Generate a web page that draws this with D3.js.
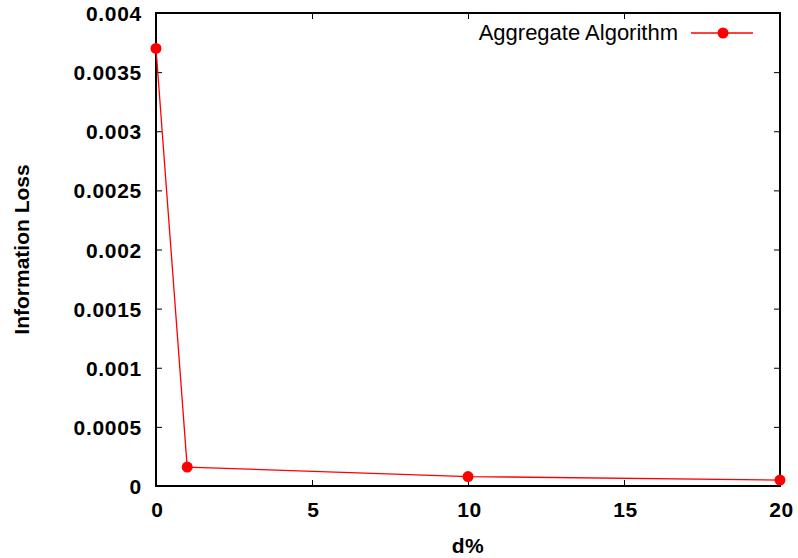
<!DOCTYPE html>
<html lang="en">
<head>
<meta charset="UTF-8">
<title>Information Loss</title>
<style>
    body { margin:0; background:#fff; }
    text { font-family: "Liberation Sans", Arial, sans-serif; }
</style>
</head>
<body>
<script src="https://cdn.jsdelivr.net/npm/d3@7"></script>
<script type="text/javascript">
    var xValues = [0, 1, 10, 20];
    var lossValues = [0.0037, 0.00016, 0.00008, 0.00005];
    var xTicks = [0, 5, 10, 15, 20];
    var yTicks = [0, 0.0005, 0.001, 0.0015, 0.002, 0.0025, 0.003, 0.0035, 0.004];
    var seriesName = "Aggregate Algorithm";

    var w = 798, h = 558;
    var mLeft = 156, mRight = 780, mTop = 13, mBottom = 486;

    var svg = d3.select("body").append("svg")
        .attr("width", w)
        .attr("height", h);

    var x = d3.scaleLinear().domain([0, 20]).range([mLeft, mRight]);
    var y = d3.scaleLinear().domain([0, 0.004]).range([mBottom, mTop]);

    var fmtY = function (d) { return d === 0 ? "0" : String(+d.toFixed(4)); };

    // axes, ticks pointing inward
    var xAxis = svg.append("g").attr("transform", "translate(0," + mBottom + ")")
        .call(d3.axisBottom(x).tickValues(xTicks).tickSizeInner(-6).tickSizeOuter(0).tickPadding(15));
    svg.append("g").attr("transform", "translate(0," + mTop + ")")
        .call(d3.axisTop(x).tickValues(xTicks).tickSizeInner(-6).tickSizeOuter(0).tickFormat(""));
    var yAxis = svg.append("g").attr("transform", "translate(" + mLeft + ",0)")
        .call(d3.axisLeft(y).tickValues(yTicks).tickFormat(fmtY).tickSizeInner(-6).tickSizeOuter(0).tickPadding(14));
    svg.append("g").attr("transform", "translate(" + mRight + ",0)")
        .call(d3.axisRight(y).tickValues(yTicks).tickSizeInner(-6).tickSizeOuter(0).tickFormat(""));

    svg.selectAll(".domain").remove();
    svg.selectAll(".tick line").attr("stroke", "#000").attr("stroke-width", 1);
    svg.selectAll(".tick text")
        .attr("font-size", "21px")
        .attr("font-weight", "bold")
        .attr("letter-spacing", "0.7px")
        .attr("fill", "#000");
    xAxis.selectAll(".tick text").attr("dy", "0.75em").attr("dx", "1px");
    yAxis.selectAll(".tick text").attr("dy", "0.36em");

    // frame
    svg.append("rect")
        .attr("x", mLeft).attr("y", mTop)
        .attr("width", mRight - mLeft).attr("height", mBottom - mTop)
        .attr("fill", "none").attr("stroke", "#000").attr("stroke-width", 2);

    // axis titles
    svg.append("text")
        .attr("x", (mLeft + mRight) / 2).attr("y", 553)
        .attr("text-anchor", "middle")
        .attr("font-size", "21px").attr("font-weight", "bold")
        .attr("letter-spacing", "0.5px")
        .text("d%");
    svg.append("text")
        .attr("transform", "translate(29," + ((mTop + mBottom) / 2) + ") rotate(-90)")
        .attr("text-anchor", "middle")
        .attr("font-size", "21px").attr("font-weight", "bold")
        .text("Information Loss");

    // series
    var pts = xValues.map(function (d, i) { return [d, lossValues[i]]; });
    var line = d3.line().x(function (d) { return x(d[0]); }).y(function (d) { return y(d[1]); });
    svg.append("path")
        .datum(pts)
        .attr("d", line)
        .attr("fill", "none")
        .attr("stroke", "#ff0000")
        .attr("stroke-width", 1.3);
    svg.selectAll("circle.pt").data(pts).enter().append("circle")
        .attr("class", "pt")
        .attr("cx", function (d) { return x(d[0]); })
        .attr("cy", function (d) { return y(d[1]); })
        .attr("r", 5.5)
        .attr("fill", "#ff0000");

    // legend
    var leg = svg.append("g");
    leg.append("text")
        .attr("x", 678).attr("y", 40)
        .attr("text-anchor", "end")
        .attr("font-size", "22px")
        .attr("fill", "#000")
        .text(seriesName);
    leg.append("line")
        .attr("x1", 691).attr("x2", 753).attr("y1", 33).attr("y2", 33)
        .attr("stroke", "#ff0000").attr("stroke-width", 1.3);
    leg.append("circle")
        .attr("cx", 723).attr("cy", 33).attr("r", 5.5)
        .attr("fill", "#ff0000");
</script>
</body>
</html>
